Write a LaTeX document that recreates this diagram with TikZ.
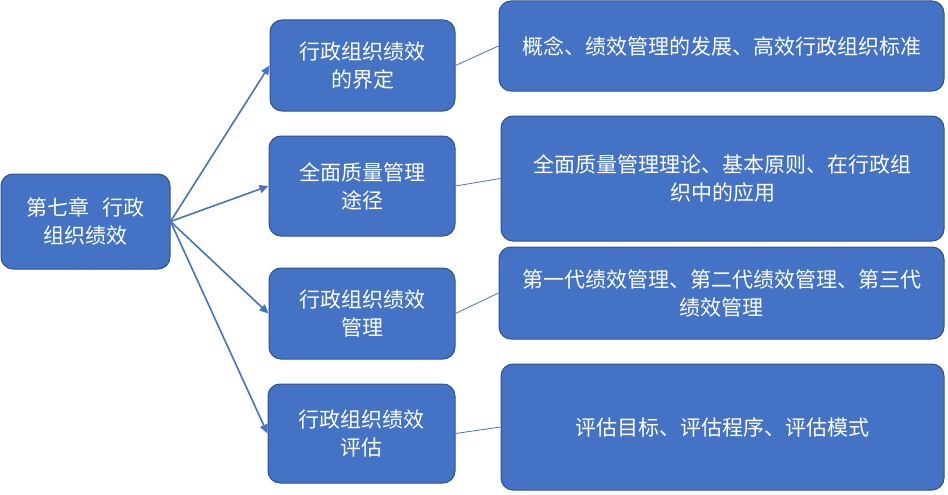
\documentclass[tikz,border=0pt]{standalone}
\usepackage{fontspec}
\setmainfont{Noto Sans CJK SC}
\usetikzlibrary{positioning,arrows.meta}
\definecolor{boxblue}{HTML}{4472C4}
\definecolor{boxedge}{HTML}{2F528F}

\begin{document}
\begin{tikzpicture}[x=1pt,y=-1pt,
  box/.style={draw=boxedge, fill=boxblue, text=white, line width=1pt,
    rounded corners=12pt, align=center, inner sep=0pt,
    font=\fontsize{21}{28}\selectfont},
  link/.style={boxblue, line width=1.6pt, -{Triangle[length=9pt,width=8pt]}},
  thin link/.style={boxblue, line width=0.8pt}]

\useasboundingbox (0,0) rectangle (948,495);

% Root node
\node[box, minimum width=169pt, minimum height=95pt] (root) at (85.5,221.5)
  {第七章\hspace{0.6em}行政\\组织绩效};

% First level
\node[box, minimum width=185pt, minimum height=91pt] (define) at (362.5,65.5)
  {行政组织绩效\\的界定};
\node[box, minimum width=186pt, minimum height=100pt] (tqm) at (362,186)
  {全面质量管理\\途径};
\node[box, minimum width=186pt, minimum height=91pt] (manage) at (362,313.5)
  {行政组织绩效\\管理};
\node[box, minimum width=187pt, minimum height=99pt] (assess) at (361.5,433.5)
  {行政组织绩效\\评估};

% Second level
\node[box, minimum width=445pt, minimum height=90pt] (define-info) at (721.5,46)
  {概念、绩效管理的发展、高效行政组织标准};
\node[box, minimum width=443pt, minimum height=125pt] (tqm-info) at (722.5,178.5)
  {全面质量管理理论、基本原则、在行政组\\织中的应用};
\node[box, minimum width=445pt, minimum height=92pt] (manage-info) at (721.5,293)
  {第一代绩效管理、第二代绩效管理、第三代\\绩效管理};
\node[box, minimum width=443pt, minimum height=126pt] (assess-info) at (722.5,427)
  {评估目标、评估程序、评估模式};

% Connectors
\foreach \n in {define,tqm,manage,assess}
  \draw[link] (root.east) -- (\n.west);
\foreach \n in {define,tqm,manage,assess}
  \draw[thin link] (\n.east) -- (\n-info.west);

\end{tikzpicture}
\end{document}
